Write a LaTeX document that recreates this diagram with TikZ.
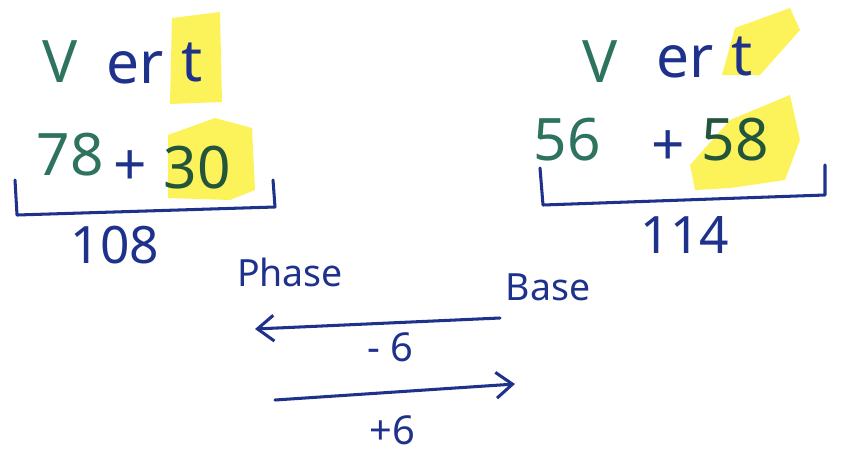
\documentclass[tikz,border=0pt]{standalone}
\usepackage{fontspec}
\setmainfont{Noto Sans}
\usetikzlibrary{arrows.meta}
\definecolor{pgreen}{RGB}{45,115,95}
\definecolor{dgreen}{RGB}{35,85,60}
\definecolor{pblue}{RGB}{30,50,140}
\definecolor{hyellow}{RGB}{252,240,60}
\tikzset{
  big/.style={inner sep=0pt, font=\fontsize{50}{60}\selectfont},
  mid/.style={inner sep=0pt, font=\fontsize{44}{52}\selectfont},
  lab/.style={inner sep=0pt, font=\fontsize{32}{38}\selectfont, text=pblue},
  num/.style={inner sep=0pt, font=\fontsize{34}{40}\selectfont, text=pblue},
  hl/.style={fill=hyellow, draw=none, opacity=0.85},
  brk/.style={draw=pblue, line width=2.6pt, line cap=round, line join=round},
  arr/.style={draw=pblue, line width=2.6pt, line cap=round, -{Straight Barb[length=14pt,width=22pt,line width=2.6pt]}}
}
\begin{document}
\begin{tikzpicture}[x=0.03cm,y=-0.03cm]
\useasboundingbox (0,0) rectangle (843,463);
% highlights
\path[hl] (172,18) -- (220,12) -- (222,102) -- (170,104) -- cycle;
\path[hl] (168,135) -- (215,118) -- (252,128) -- (255,190) -- (230,200) -- (168,198) -- cycle;
\path[hl] (735,28) -- (790,8) -- (800,30) -- (760,75) -- (722,75) -- cycle;
\path[hl] (690,165) -- (730,120) -- (790,95) -- (800,140) -- (785,180) -- (730,188) -- (695,190) -- cycle;
% left group
\node[big, text=pgreen] (v1) at (60,62) {V};
\node[big, text=pblue] (er1) at (135,68) {er};
\node[big, text=pblue] (t1) at (192,62) {t};
\node[big, text=pgreen] (n78) at (70,155) {78};
\node[big, text=pblue] (p1) at (130,168) {+};
\node[big, text=dgreen] (n30) at (197,168) {30};
\node[mid, text=pblue] (n108) at (115,245) {108};
\coordinate (b1a) at (15,180);
\coordinate (b1b) at (17,215);
\coordinate (b1c) at (275,207);
\coordinate (b1d) at (273,180);
\draw[brk] (b1a) -- (b1b) -- (b1c) -- (b1d);
% right group
\node[big, text=pgreen] (v2) at (600,62) {V};
\node[big, text=pblue] (er2) at (685,62) {er};
\node[big, text=pblue] (t2) at (742,56) {t};
\node[big, text=pgreen] (n56) at (567,140) {56};
\node[big, text=pblue] (p2) at (668,148) {+};
\node[big, text=dgreen] (n58) at (735,140) {58};
\node[mid, text=pblue] (n114) at (685,235) {114};
\coordinate (b2a) at (540,168);
\coordinate (b2b) at (543,205);
\coordinate (b2c) at (825,195);
\coordinate (b2d) at (825,165);
\draw[brk] (b2a) -- (b2b) -- (b2c) -- (b2d);
% bottom
\node[lab] (phase) at (290,272) {Phase};
\node[lab] (base) at (548,287) {Base};
\coordinate (a1s) at (500,318);
\coordinate (a1e) at (255,329);
\draw[arr] (a1s) -- (a1e);
\node[num] (m6) at (390,347) {- 6};
\coordinate (a2s) at (275,400);
\coordinate (a2e) at (515,384);
\draw[arr] (a2s) -- (a2e);
\node[num] (p6) at (392,430) {+6};
\end{tikzpicture}
\end{document}
